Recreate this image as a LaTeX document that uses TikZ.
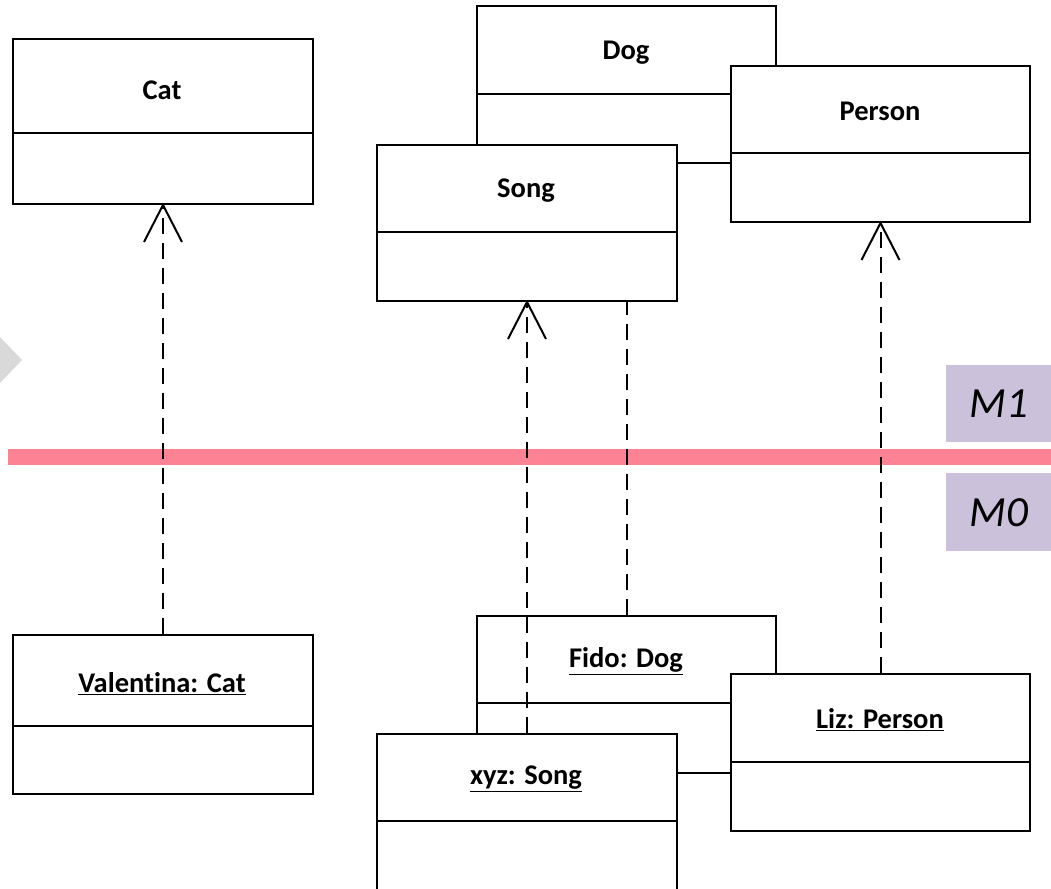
\documentclass[tikz,border=0pt]{standalone}
\usepackage{fontspec}
\setmainfont[Ligatures={NoCommon,NoRare}]{Carlito}
\definecolor{band}{RGB}{252,130,148}
\definecolor{lav}{RGB}{204,193,218}
\definecolor{trigray}{RGB}{217,217,217}
\begin{document}
\begin{tikzpicture}[x=1pt,y=-1pt,
  cls/.style={draw=black, line width=2pt, fill=white, rectangle, inner sep=0pt, anchor=north west, minimum width=300pt},
  lbl/.style={font=\fontsize{28.5}{32}\selectfont\bfseries},
  divline/.style={line width=2pt},
  dep/.style={line width=2pt, dash pattern=on 16pt off 9pt},
  tipline/.style={line width=2pt},
  mlab/.style={fill=lav, anchor=north west, minimum width=105pt, inner sep=0pt, font=\fontsize{43}{46}\selectfont\itshape}]
\useasboundingbox (0,0) rectangle (1051,888);
\fill[trigray] (0,337) -- (22,360) -- (0,383) -- cycle;
% ---- M1 classes
\node[cls, minimum height=165pt] (cat) at (12,38) {};
\draw[divline] ([yshift=-95pt]cat.north west) -- ([yshift=-95pt]cat.north east);
\node[lbl] (catT) at (162,90) {Cat};

\node[cls, minimum width=299pt, minimum height=157pt] (dog) at (476,5) {};
\draw[divline] ([yshift=-89pt]dog.north west) -- ([yshift=-89pt]dog.north east);
\node[lbl] (dogT) at (626,53) {Dog};

\node[cls, minimum width=299pt, minimum height=156pt] (person) at (730,65) {};
\draw[divline] ([yshift=-88pt]person.north west) -- ([yshift=-88pt]person.north east);
\node[lbl] (personT) at (880,111) {Person};

\node[cls, minimum height=156pt] (song) at (376,144) {};
\draw[divline] ([yshift=-88pt]song.north west) -- ([yshift=-88pt]song.north east);
\node[lbl] (songT) at (526,191) {Song};

% ---- band and level labels
\draw[band, line width=16pt] (8,457) -- (1051,457);
\node[mlab, minimum height=77pt] (m1) at (946,365) {M1};
\node[mlab, minimum height=78pt] (m0) at (946,473) {M0};

% ---- M0 objects
\node[cls, minimum height=159pt] (val) at (12,634) {};
\draw[divline] ([yshift=-92pt]val.north west) -- ([yshift=-92pt]val.north east);
\node[lbl] (valT) at (162,684) {\underline{Valentina: Cat}};

\node[cls, minimum width=299pt, minimum height=157pt] (fido) at (476,615) {};
\draw[divline] ([yshift=-88pt]fido.north west) -- ([yshift=-88pt]fido.north east);
\node[lbl] (fidoT) at (626,661) {\underline{Fido: Dog}};

\node[cls, minimum width=299pt, minimum height=157pt] (liz) at (730,673) {};
\draw[divline] ([yshift=-89pt]liz.north west) -- ([yshift=-89pt]liz.north east);
\node[lbl] (lizT) at (880,720) {\underline{Liz: Person}};

\node[cls, minimum height=200pt] (xyz) at (376,733) {};
\draw[divline] ([yshift=-88pt]xyz.north west) -- ([yshift=-88pt]xyz.north east);
\node[lbl] (xyzT) at (526,779) {\underline{xyz: Song}};

% ---- instance-of connectors
\draw[dep] (val.north) -- (cat.south);
\draw[tipline] ([xshift=-19pt,yshift=-37pt]cat.south) -- (cat.south) -- ([xshift=19pt,yshift=-37pt]cat.south);

\draw[dep] (xyz.north) -- (song.south);
\draw[tipline] ([xshift=-19pt,yshift=-37pt]song.south) -- (song.south) -- ([xshift=19pt,yshift=-37pt]song.south);

\draw[dep] (fido.north) -- (fido.north |- song.south);

\draw[dep] (liz.north) -- (person.south);
\draw[tipline] ([xshift=-19pt,yshift=-37pt]person.south) -- (person.south) -- ([xshift=19pt,yshift=-37pt]person.south);
\end{tikzpicture}
\end{document}
